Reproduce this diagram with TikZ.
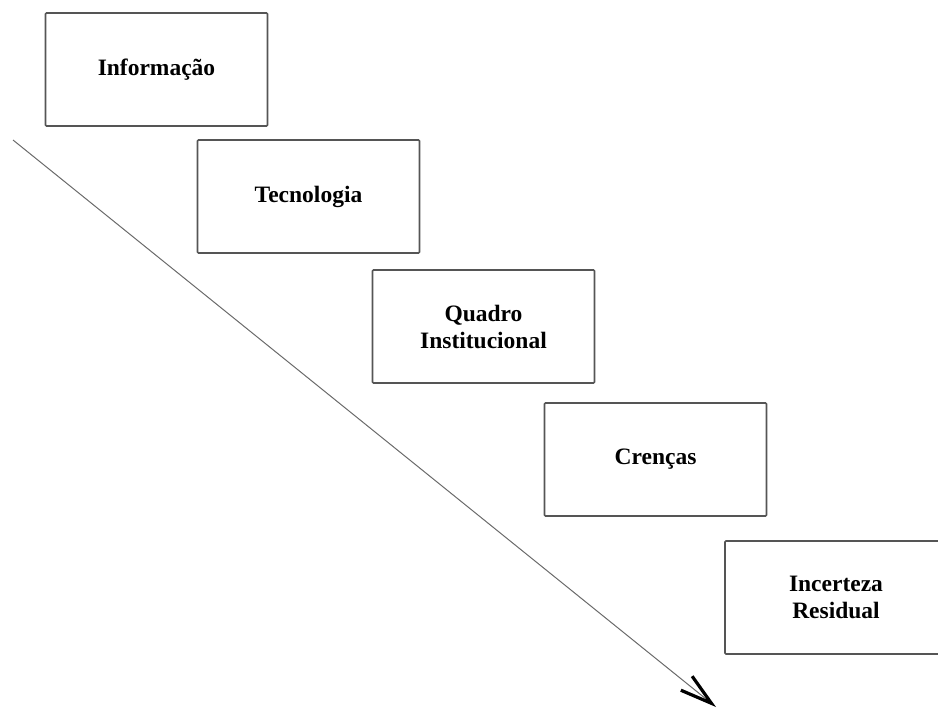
\documentclass[tikz,border=0pt]{standalone}
\usepackage{fontspec}
\setmainfont{Liberation Serif}
\usetikzlibrary{arrows.meta}
\definecolor{boxgray}{HTML}{555555}
\definecolor{linegray}{HTML}{6A6A6A}
\tikzset{
  stagebox/.style={draw=boxgray, line width=1.7pt, rounded corners=1pt, fill=white,
    font=\fontsize{23.5}{27}\selectfont\bfseries, align=center, inner sep=0pt,
    minimum width=222pt, minimum height=113pt},
  flowarrow/.style={draw=linegray, line width=1pt,
    -{Straight Barb[length=32pt, width=18pt, line width=3.2pt, color=black]}}
}
\begin{document}
\begin{tikzpicture}[x=1pt, y=-1pt]
\useasboundingbox (0,0) rectangle (938,709);
\clip (0,0) rectangle (938,709);
\node[stagebox] (info) at (156.5,69.5) {Informação};
\node[stagebox] (tec) at (308.5,196.5) {Tecnologia};
\node[stagebox] (quad) at (483.5,326.5) {Quadro\\Institucional};
\node[stagebox] (cren) at (655.5,459.5) {Crenças};
\node[stagebox] (inc) at (836,597.5) {Incerteza\\Residual};
\coordinate (start) at (13,140);
\coordinate (end) at (716,707);
\draw[flowarrow] (start) -- (end);
\end{tikzpicture}
\end{document}
